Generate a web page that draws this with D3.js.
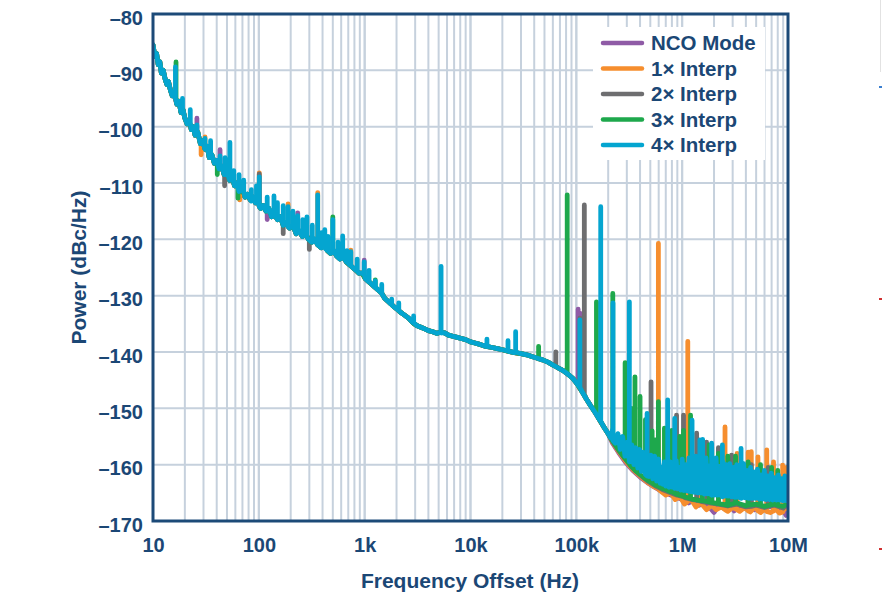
<!DOCTYPE html>
<html><head><meta charset="utf-8">
<script src="https://cdn.jsdelivr.net/npm/d3@7"></script>
<style>
html,body{margin:0;padding:0;background:#fff;}
svg{display:block;font-family:"Liberation Sans",Arial,Helvetica,sans-serif;}
</style></head>
<body>
<svg id="chart" width="882" height="598"></svg>
<script>
// ---------- DATA ----------
const seriesNames = ["NCO Mode", "1× Interp", "2× Interp", "3× Interp", "4× Interp"];
const seriesColors = ["#8f5ba6", "#f68e2e", "#6e6e70", "#1ea84c", "#04a5d0"];
const xTickValues = [10, 100, 1e3, 1e4, 1e5, 1e6, 1e7];
const xTickLabels = ["10", "100", "1k", "10k", "100k", "1M", "10M"];
const yTickValues = [-80, -90, -100, -110, -120, -130, -140, -150, -160, -170];
const xTitle = "Frequency Offset (Hz)";
const yTitle = "Power (dBc/Hz)";

// shared noise floor 10 Hz .. 200 kHz  [Hz, dBc/Hz]
const floorShared = [
[10,-85.5],[10.4,-87.5],[10.8,-87],[11.2,-89],[11.6,-88.5],[12,-90.5],[12.5,-90],[13,-91.5],[13.5,-92.5],[14,-92],
[14.6,-93.5],[15.2,-94.5],[15.8,-94],[16.8,-96],[17.6,-95.5],[18.4,-97.5],[19.2,-97],[20,-98.5],[21,-99.5],[22,-99],
[23,-100.5],[24,-100],[25,-101.5],[26.5,-101],[28,-103],[29.5,-102.5],[31,-104],[32.5,-103.5],[34,-105.5],[36,-105],
[38,-106.5],[40,-106],[42,-107.5],[44.5,-107],[47,-108.5],[50,-108],[53,-109.5],[56,-109],[59,-110.5],[62,-110],
[66,-111.5],[70,-111],[74,-112.5],[78,-112],[83,-113],[88,-112.5],[93,-113.5],[98,-113],[104,-114.5],[110,-114],
[117,-115],[124,-114.5],[132,-116],[140,-115.5],[150,-116.5],[160,-116],[170,-117.5],[182,-117],[195,-118],[210,-117.5],
[225,-119],[240,-118.5],[258,-119.5],[276,-119],[295,-120],[316,-120.5],[338,-120],[362,-121],[388,-121.5],[415,-121],
[445,-122],[476,-122.5],[510,-122],[546,-123],[585,-123.5],[626,-123],[670,-124],[718,-124.5],[770,-125],[825,-125.5],
[884,-126],[947,-126],[1015,-127],[1090,-127.5],[1170,-128],[1250,-128.5],[1340,-129],[1440,-129.5],[1550,-130.5],[1660,-131],
[1780,-131.5],[1900,-132],[2050,-132.5],[2200,-133],[2400,-133.5],[2600,-134],[2850,-134.8],[3100,-135.3],[3400,-135.6],[3700,-135.9],
[4000,-136.2],[4400,-136.4],[4800,-136.7],[5200,-136.5],[5700,-136.6],[6200,-137],[6800,-137.2],[7500,-137.4],[8200,-137.6],[9000,-137.8],
[10000,-138.2],[11000,-138.4],[12500,-138.7],[14000,-139],[16000,-139.2],[18000,-139.4],[20000,-139.6],[23000,-139.9],[26000,-140.1],[30000,-140.3],
[34000,-140.5],[38000,-140.8],[43000,-141.1],[48000,-141.4],[54000,-141.8],[60000,-142.3],[67000,-142.8],[75000,-143.3],[84000,-144],[93000,-144.7],
[103000,-145.8],[113000,-147],[124000,-148.3],[136000,-149.5],[150000,-150.7],[165000,-152],[182000,-153.3],[200000,-154.5]
];

// per-series floor above 200 kHz
const tailNCO = [[220e3,-156.2],[250e3,-157.8],[290e3,-159.5],[340e3,-161],[400e3,-162.2],[470e3,-163.2],[550e3,-164],[650e3,-164.8],[760e3,-165.3],[880e3,-165.8],
[1e6,-166.2],[1.15e6,-166.8],[1.3e6,-166.2],[1.45e6,-167.2],[1.6e6,-166.7],[1.8e6,-167.5],[2e6,-168.5],[2.2e6,-167.2],[2.5e6,-167.8],[2.8e6,-167],
[3.1e6,-168.2],[3.4e6,-167.3],[3.8e6,-167.8],[4.3e6,-167],[4.8e6,-168],[5.4e6,-167.3],[6e6,-168],[6.8e6,-167.3],[7.6e6,-168],[8.4e6,-167.5],
[9e6,-168],[9.6e6,-169],[1e7,-167.5]];
const tail1x = [[220e3,-156],[250e3,-157.6],[290e3,-159.3],[340e3,-160.8],[400e3,-162],[460e3,-163],[530e3,-163.8],[610e3,-164.5],[700e3,-165.4],[780e3,-165],
[860e3,-166.2],[950e3,-165.6],[1.05e6,-167],[1.2e6,-166],[1.35e6,-167.5],[1.5e6,-166.8],[1.7e6,-168],[1.9e6,-167.2],[2.1e6,-168],[2.35e6,-167.5],
[2.7e6,-168.3],[3e6,-167.6],[3.5e6,-168.3],[3.9e6,-167.6],[4.4e6,-168.4],[4.9e6,-167.5],[5.5e6,-168.5],[6.1e6,-167.8],[6.8e6,-168.5],[7.6e6,-167.8],
[8.3e6,-168.6],[9.2e6,-167.8],[1e7,-167]];
const tail2x = [[220e3,-155.9],[250e3,-157.4],[290e3,-159],[340e3,-160.6],[400e3,-161.8],[470e3,-162.9],[550e3,-163.7],[650e3,-164.4],[780e3,-165],[900e3,-165.4],
[1.05e6,-165.8],[1.25e6,-166.2],[1.5e6,-166.5],[1.8e6,-166.8],[2.2e6,-167],[2.7e6,-167.3],[3.3e6,-167],[4e6,-167.5],[5e6,-167.2],[6e6,-167.6],
[7.5e6,-167.2],[9e6,-167.7],[1e7,-167]];
const tail3x = [[220e3,-155.8],[250e3,-157.3],[290e3,-158.9],[340e3,-160.5],[400e3,-161.7],[470e3,-162.7],[550e3,-163.5],[650e3,-164.2],[780e3,-164.8],[900e3,-165.3],
[1.05e6,-165.7],[1.25e6,-166.1],[1.5e6,-166.4],[1.8e6,-166.6],[2.2e6,-166.9],[2.7e6,-167.2],[3.3e6,-166.8],[4e6,-167.3],[5e6,-167],[6e6,-167.4],
[7.5e6,-167],[9e6,-167.4],[1e7,-166.8]];
const tail4x = [[210e3,-155.2],[222e3,-153.5],[234e3,-156.2],[247e3,-154.5],[260e3,-157.3],[274e3,-155],[288e3,-158.5],[303e3,-156],[320e3,-159.5],[335e3,-156.5],
[350e3,-160],[365e3,-157],[380e3,-160.6],[395e3,-157.3],[412e3,-161.2],[430e3,-157.8],[448e3,-161.7],[467e3,-158],[487e3,-162.1],[507e3,-158.3],
[528e3,-162.5],[550e3,-158.5],[573e3,-162.9],[600e3,-159],[620e3,-163.3],[640e3,-160.5],[660e3,-163.5],[680e3,-159.5],[700e3,-163.8],[725e3,-160.5],
[750e3,-164],[775e3,-159.5],[800e3,-164],[825e3,-160],[850e3,-164.2],[880e3,-159.3],[910e3,-164.3],[940e3,-160.5],[970e3,-164.5],[1.0e6,-159],
[1.04e6,-164.6],[1.08e6,-160],[1.12e6,-164.7],[1.16e6,-158.8],[1.2e6,-164.8],[1.25e6,-160.2],[1.3e6,-164.9],[1.35e6,-158.5],[1.4e6,-165],[1.45e6,-160.5],
[1.5e6,-165],[1.56e6,-159.5],[1.62e6,-165.2],[1.68e6,-158.8],[1.74e6,-165.2],[1.8e6,-160.2],[1.87e6,-165.3],[1.94e6,-159.3],[2.01e6,-165.4],[2.09e6,-158.8],
[2.17e6,-165.4],[2.25e6,-160.3],[2.34e6,-165.5],[2.43e6,-159.5],[2.52e6,-165.6],[2.62e6,-160],[2.72e6,-165.6],[2.82e6,-159.8],[2.93e6,-165.7],[3.04e6,-160.5],
[3.16e6,-165.8],[3.28e6,-160],[3.4e6,-165.8],[3.53e6,-161],[3.67e6,-165.9],[3.81e6,-159.8],[3.96e6,-165.9],[4.11e6,-161],[4.27e6,-166],[4.43e6,-160.5],
[4.6e6,-166],[4.78e6,-161.3],[4.96e6,-166],[5.15e6,-160.8],[5.35e6,-166.1],[5.55e6,-161.8],[5.76e6,-166.1],[5.98e6,-161],[6.2e6,-166.2],[6.45e6,-162],
[6.7e6,-166.2],[6.95e6,-161.5],[7.2e6,-166.3],[7.5e6,-162.3],[7.8e6,-166.3],[8.1e6,-161.8],[8.4e6,-166.3],[8.7e6,-162.5],[9.0e6,-166.4],[9.35e6,-162],
[9.7e6,-166.4],[1e7,-164]];

// spurs (and dips): [Hz, peak dBc/Hz, base dBc/Hz]
const spursNCO = [[26,-98.5,-101.2],[43,-104.1,-107.3],[120,-116.5,-114.8],[233,-115.3,-118.8],[990,-123.7,-126.3],[104e3,-132.4,-145.6],[108e3,-133.1,-146]];
const spurs1x = [[28.5,-105,-103],[31,-101.8,-104],[66,-113,-111.5],[101,-108.2,-114.2],[189,-113.7,-117.8],[360,-111.7,-121],[740,-121.9,-124.6],[596e3,-120.7,-164.3],
[1.13e6,-138.1,-166.5],[1.5e6,-158,-166.8],[2.54e6,-153.3,-168],[3.3e6,-158,-168],[4.2e6,-157.8,-168.2],[4.5e6,-157.7,-168.2],
[5.2e6,-158.6,-168.2],[6.3e6,-157.4,-168.3],[7.3e6,-159.5,-168.2],[8.9e6,-160.1,-168.4],[9.7e6,-160.5,-167.8]];
const spurs2x = [[47.5,-110.5,-108.5],[101,-108.4,-114.2],[170,-119,-117.5],[300,-121.8,-120.2],[64e3,-140,-142.5],[108e3,-134,-146.5],[119e3,-113.9,-147.5],[508e3,-145.3,-163.3],[885e3,-151.2,-165.4],
[1.03e6,-151.2,-165.7],[1.37e6,-154.4,-166.3],[1.7e6,-156,-166.7],[2.2e6,-157,-167],[2.93e6,-158.3,-167.2],[4.5e6,-160,-167.4],[6.5e6,-160.5,-167.4]];
const spurs3x = [[16.5,-88.5,-95],[40.5,-108.5,-106.5],[63.5,-112.7,-110.5],[500,-116,-122.3],[1260,-127.2,-128.5],[44e3,-139,-141.2],[82e3,-112.1,-143.8],[155e3,-131.1,-151],
[221e3,-129.6,-155.8],[289e3,-141.9,-158.9],[330e3,-150,-160.3],[358e3,-144.4,-161],[400e3,-147.9,-161.7],[450e3,-152,-162.5],
[520e3,-154,-163.2],[560e3,-155.6,-163.6],[596e3,-148.8,-163.8],[680e3,-153.5,-164.3],[800e3,-153.9,-164.8],[950e3,-155,-165.4],
[1.03e6,-153.9,-165.6],[1.2e6,-151.2,-166],[1.55e6,-156.5,-166.4],[1.8e6,-156.5,-166.6],[1.9e6,-156.8,-166.7],[2.2e6,-158,-166.9],
[2.7e6,-158.5,-167.2],[3.2e6,-158.5,-166.8],[4.2e6,-159.5,-167.2],[5.5e6,-160,-167.2],[7e6,-160.5,-167.1],[8e6,-161,-167.2]];
const spurs4x = [[16.3,-89.4,-95],[19,-95,-97.5],[22.5,-97,-99.5],[26,-99.7,-101.2],[31,-102.1,-104],[35,-102.5,-105.3],[43,-105.2,-107.3],
[48,-105.5,-108.5],[53.3,-102.8,-109.2],[58,-107.8,-110],[65,-108.5,-111.5],[72,-109.5,-111.5],[85,-111.2,-113.2],[95,-110.5,-113.2],
[101,-108.9,-114.2],[120,-112.5,-115],[139,-112.3,-115.8],[150,-113.5,-116.5],[170,-114,-117.3],[189,-114.2,-117.8],[210,-115,-117.5],
[233,-115.8,-118.8],[260,-116.5,-119.3],[285,-116,-119.6],[320,-117.5,-120.5],[360,-112.1,-121],[390,-118.8,-121.5],
[420,-118.3,-121.5],[450,-119.5,-122],[500,-116.5,-122.3],[560,-120.5,-123.2],[620,-119.4,-123.2],[680,-122,-124],[740,-122.2,-124.6],
[850,-123.5,-125.6],[990,-124,-126.3],[1100,-125.5,-127.5],[1260,-127.4,-128.5],[1450,-128,-129.6],
[1800,-130.6,-131.6],[2100,-131.3,-132.6],[2900,-133.6,-134.8],[5270,-124.8,-136.6],[14300,-137.7,-139],[22600,-138,-139.8],[26700,-136.4,-140],[108e3,-134.3,-146.3],
[170e3,-114.2,-152.3],[222e3,-131.3,-155.7],[317e3,-131.1,-159.5],[466e3,-150.9,-162],[730e3,-148.5,-163.8],[850e3,-151.8,-164],
[1.24e6,-152.1,-164.8],[1.47e6,-155.6,-165],[1.56e6,-155.5,-165],[1.9e6,-156.2,-165.4],[2.4e6,-156.5,-165.7],[3.6e6,-157.1,-166]];

const tails = [tailNCO, tail1x, tail2x, tail3x, tail4x];
const spurs = [spursNCO, spurs1x, spurs2x, spurs3x, spurs4x];

// ---------- CHART ----------
const W = 882, H = 598;
const m = {left: 153, right: 788, top: 14, bottom: 521};
const svg = d3.select("#chart");
const x = d3.scaleLog().domain([10, 1e7]).range([m.left, m.right]);
const y = d3.scaleLinear().domain([-170, -80]).range([m.bottom, m.top]);
const gridColor = "#c6d1dd";
const navy = "#1c4a78";
const textColor = "#1b4775";

svg.append("rect").attr("width", W).attr("height", H).attr("fill", "#fff");

// grid
const minorX = [];
for (let d = 10; d < 1e7; d *= 10) for (let k = 1; k <= 10; k++) minorX.push(d * k);
const grid = svg.append("g");
grid.selectAll("line.v").data(minorX).join("line")
  .attr("x1", d => x(d)).attr("x2", d => x(d)).attr("y1", m.top).attr("y2", m.bottom)
  .attr("stroke", gridColor).attr("stroke-width", 2);
grid.selectAll("line.h").data(yTickValues).join("line")
  .attr("x1", m.left).attr("x2", m.right).attr("y1", d => y(d)).attr("y2", d => y(d))
  .attr("stroke", gridColor).attr("stroke-width", 2);

// clip
svg.append("clipPath").attr("id", "clip").append("rect")
  .attr("x", m.left).attr("y", m.top).attr("width", m.right - m.left).attr("height", m.bottom - m.top);

function buildSeries(i) {
  const pts = floorShared.map(p => ({f: p[0], v: p[1], o: 0}));
  tails[i].forEach(p => pts.push({f: p[0], v: p[1], o: 0}));
  spurs[i].forEach(s => {
    pts.push({f: s[0], v: s[2], o: 1});
    pts.push({f: s[0], v: s[1], o: 2});
    pts.push({f: s[0], v: s[2], o: 3});
  });
  pts.sort((a, b) => a.f - b.f || a.o - b.o);
  return pts;
}
const line = d3.line().x(d => x(d.f)).y(d => y(d.v));
const plot = svg.append("g").attr("clip-path", "url(#clip)");
seriesNames.forEach((n, i) => {
  plot.append("path").datum(buildSeries(i))
    .attr("d", line).attr("fill", "none")
    .attr("stroke", seriesColors[i]).attr("stroke-width", 4.8)
    .attr("stroke-linejoin", "round").attr("stroke-linecap", "round");
});

// border
svg.append("rect").attr("x", m.left).attr("y", m.top)
  .attr("width", m.right - m.left).attr("height", m.bottom - m.top)
  .attr("fill", "none").attr("stroke", navy).attr("stroke-width", 3);

// axes labels
const xAxis = d3.axisBottom(x).tickValues(xTickValues).tickFormat((d, i) => xTickLabels[i]).tickSize(0).tickPadding(0);
const gx = svg.append("g").attr("transform", `translate(0,${m.bottom})`).call(xAxis);
gx.select(".domain").remove();
gx.selectAll("text").attr("fill", textColor).attr("font-size", 20).attr("font-weight", "bold")
  .attr("dy", null).attr("y", 31);

const yAxis = d3.axisLeft(y).tickValues(yTickValues).tickFormat(d => "\u2013" + Math.abs(d)).tickSize(0).tickPadding(0);
const gy = svg.append("g").attr("transform", `translate(${143},0)`).call(yAxis);
gy.select(".domain").remove();
gy.selectAll("text").attr("fill", textColor).attr("font-size", 20).attr("font-weight", "bold")
  .attr("dy", null).attr("x", 0).attr("y", 10).attr("text-anchor", "end");

svg.append("text").attr("x", 470).attr("y", 588).attr("text-anchor", "middle")
  .attr("fill", textColor).attr("font-size", 21).attr("font-weight", "bold").text(xTitle);
svg.append("text").attr("transform", `translate(86,${(m.top + m.bottom) / 2}) rotate(-90)`)
  .attr("text-anchor", "middle").attr("fill", textColor).attr("font-size", 21).attr("font-weight", "bold").text(yTitle);

// legend
const lg = svg.append("g");
lg.append("rect").attr("x", 593).attr("y", 27).attr("width", 172).attr("height", 133).attr("fill", "#fff");
seriesNames.forEach((n, i) => {
  const yy = 43 + i * 25.5;
  lg.append("line").attr("x1", 603).attr("x2", 642).attr("y1", yy).attr("y2", yy)
    .attr("stroke", seriesColors[i]).attr("stroke-width", 4.5).attr("stroke-linecap", "round");
  lg.append("text").attr("x", 651).attr("y", yy + 7).attr("fill", textColor)
    .attr("font-size", 20.5).attr("font-weight", "bold").text(n);
});

// faint page-edge marks on the right
svg.append("line").attr("x1", 880.5).attr("x2", 880.5).attr("y1", 0).attr("y2", 72).attr("stroke", "#e2e2e2").attr("stroke-width", 1);
svg.append("rect").attr("x", 879).attr("y", 86).attr("width", 3).attr("height", 2).attr("fill", "#3a7fd0");
svg.append("rect").attr("x", 879).attr("y", 298).attr("width", 3).attr("height", 2).attr("fill", "#d03030");
svg.append("rect").attr("x", 879).attr("y", 548).attr("width", 3).attr("height", 2).attr("fill", "#d03030");
</script>
</body></html>
